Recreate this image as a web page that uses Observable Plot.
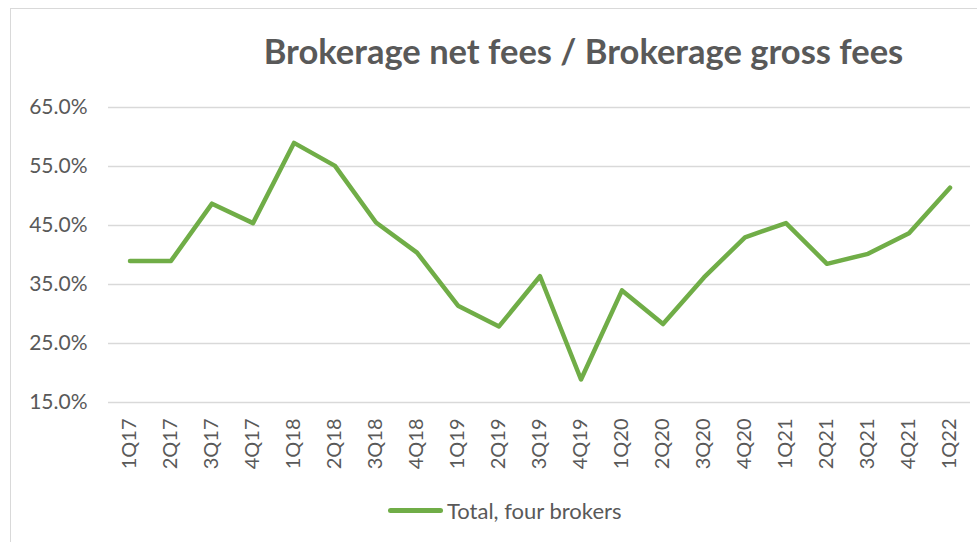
<!DOCTYPE html>
<html>
<head>
<meta charset="utf-8">
<script src="https://cdn.jsdelivr.net/npm/d3@7"></script>
<script src="https://cdn.jsdelivr.net/npm/@observablehq/plot@0.6"></script>
<style>
  html, body { margin: 0; padding: 0; background: #fff; }
  #frame {
    position: absolute; left: 10px; top: 8px; width: 970px; height: 540px;
    border: 1px solid #d9d9d9; box-sizing: border-box;
  }
  #title {
    position: absolute; left: 0; top: 0; width: 977px; height: 104px;
    font-family: Lato, "Open Sans", sans-serif; font-weight: bold; font-size: 34.5px;
    color: #595959; text-align: center; line-height: 104px; padding-left: 190px; box-sizing: border-box;
    margin-top: 0;
  }
  #chart { position: absolute; left: 0; top: 88px; }
  #legend {
    position: absolute; top: 496px; left: 388px; height: 28px;
    font-family: Lato, sans-serif; font-size: 22px; color: #595959;
    display: flex; align-items: center;
  }
  #legend .sw { width: 55px; height: 5px; background: #70ad47; border-radius: 3px; margin-right: 4px; }
</style>
</head>
<body>
<div id="frame"></div>
<div id="title" style="line-height:1; padding-top:34px; height:auto;">Brokerage net fees / Brokerage gross fees</div>
<div id="chart"></div>
<div id="legend"><span class="sw"></span><span>Total, four brokers</span></div>
<script>
const quarters = ["1Q17","2Q17","3Q17","4Q17","1Q18","2Q18","3Q18","4Q18","1Q19","2Q19","3Q19","4Q19","1Q20","2Q20","3Q20","4Q20","1Q21","2Q21","3Q21","4Q21","1Q22"];
const ratio = [39.0, 39.0, 48.7, 45.4, 59.0, 55.1, 45.5, 40.4, 31.4, 27.9, 36.4, 18.9, 34.0, 28.3, 36.2, 43.0, 45.4, 38.5, 40.2, 43.7, 51.4];
const yTicks = [15, 25, 35, 45, 55, 65];
const seriesName = "Total, four brokers";

const data = quarters.map((q, i) => ({q, v: ratio[i], s: seriesName}));

const plot = Plot.plot({
  width: 977,
  height: 400,
  marginLeft: 108,
  marginRight: 7,
  marginTop: 19,
  marginBottom: 86,
  style: { fontFamily: "Lato, sans-serif", fontSize: "20px", color: "#595959", background: "transparent" },
  x: { type: "band", domain: quarters, padding: 0, label: null },
  y: { domain: [15, 65], label: null },
  marks: [
    Plot.gridY(yTicks, { stroke: "#d9d9d9", strokeOpacity: 1, strokeWidth: 1.5 }),
    Plot.axisY(yTicks, { tickSize: 0, tickPadding: 21, tickFormat: d => d.toFixed(1) + "%", fill: "#595959", fontSize: 21 }),
    Plot.axisX({ tickSize: 0, tickPadding: 16, tickRotate: -90, fill: "#595959", fontSize: 20 }),
    Plot.line(data, { x: "q", y: "v", stroke: "#70ad47", strokeWidth: 4.5, strokeLinejoin: "round", strokeLinecap: "round" })
  ]
});
document.getElementById("chart").appendChild(plot);
</script>
</body>
</html>
